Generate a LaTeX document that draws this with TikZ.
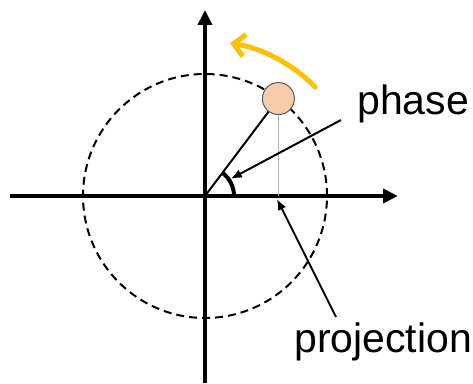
\documentclass[tikz,border=0pt]{standalone}
\usepackage{fontspec}
\setmainfont{Liberation Sans}
\usetikzlibrary{arrows.meta}
\definecolor{ballfill}{RGB}{248,203,173}
\definecolor{ballline}{RGB}{90,90,90}
\definecolor{turncol}{RGB}{255,192,0}
\tikzset{
  axis/.style={line width=4pt,-{Triangle[length=15pt,width=14pt]}},
  pointer/.style={line width=2pt,-{Latex[length=11pt,width=9pt]}},
  lbl/.style={font=\fontsize{41}{48}\selectfont,inner sep=0pt,anchor=base west},
}
\begin{document}
\begin{tikzpicture}[x=1pt,y=1pt]
\useasboundingbox (0,0) rectangle (473,383);
\coordinate (O) at (205,187);
\coordinate (xl) at (10,187);
\coordinate (xr) at (398,187);
\coordinate (yb) at (205,0);
\coordinate (yt) at (205,373);
% dashed circle
\draw[line width=2pt,dash pattern=on 8pt off 5pt] (O) circle[radius=122];
% axes
\draw[axis] (xl) -- (xr);
\draw[axis] (yb) -- (yt);
% ball
\node[circle,minimum size=32pt,inner sep=0pt,fill=ballfill,draw=ballline,line width=1pt] (ball) at ([shift={(53:122)}]O) {};
\coordinate (foot) at (ball |- O);
\draw[gray!60,line width=1.5pt] (ball.south) -- (foot);
\draw[line width=2pt] (O) -- (ball);
% angle arc
\draw[line width=4pt] ([shift={(0:29)}]O) arc[start angle=0,end angle=53,radius=29];
% orange rotation arrow
\coordinate (r0) at ([shift={(44.7:155)}]O);
\draw[turncol,line width=5pt,line cap=round,-{Straight Barb[length=11pt,width=22pt,line width=5pt]}] (r0) arc[start angle=44.7,end angle=80.7,radius=155];
% labels
\node[lbl] (phase) at (357,268) {phase};
\node[lbl] (proj) at (294,31) {projection};
\coordinate (ph0) at (341,263);
\coordinate (ph1) at ([shift={(33.7:31)}]O);
\coordinate (pr0) at (336,66);
\coordinate (pr1) at (277,184);
\draw[pointer] (ph0) -- (ph1);
\draw[pointer] (pr0) -- (pr1);
\end{tikzpicture}
\end{document}
